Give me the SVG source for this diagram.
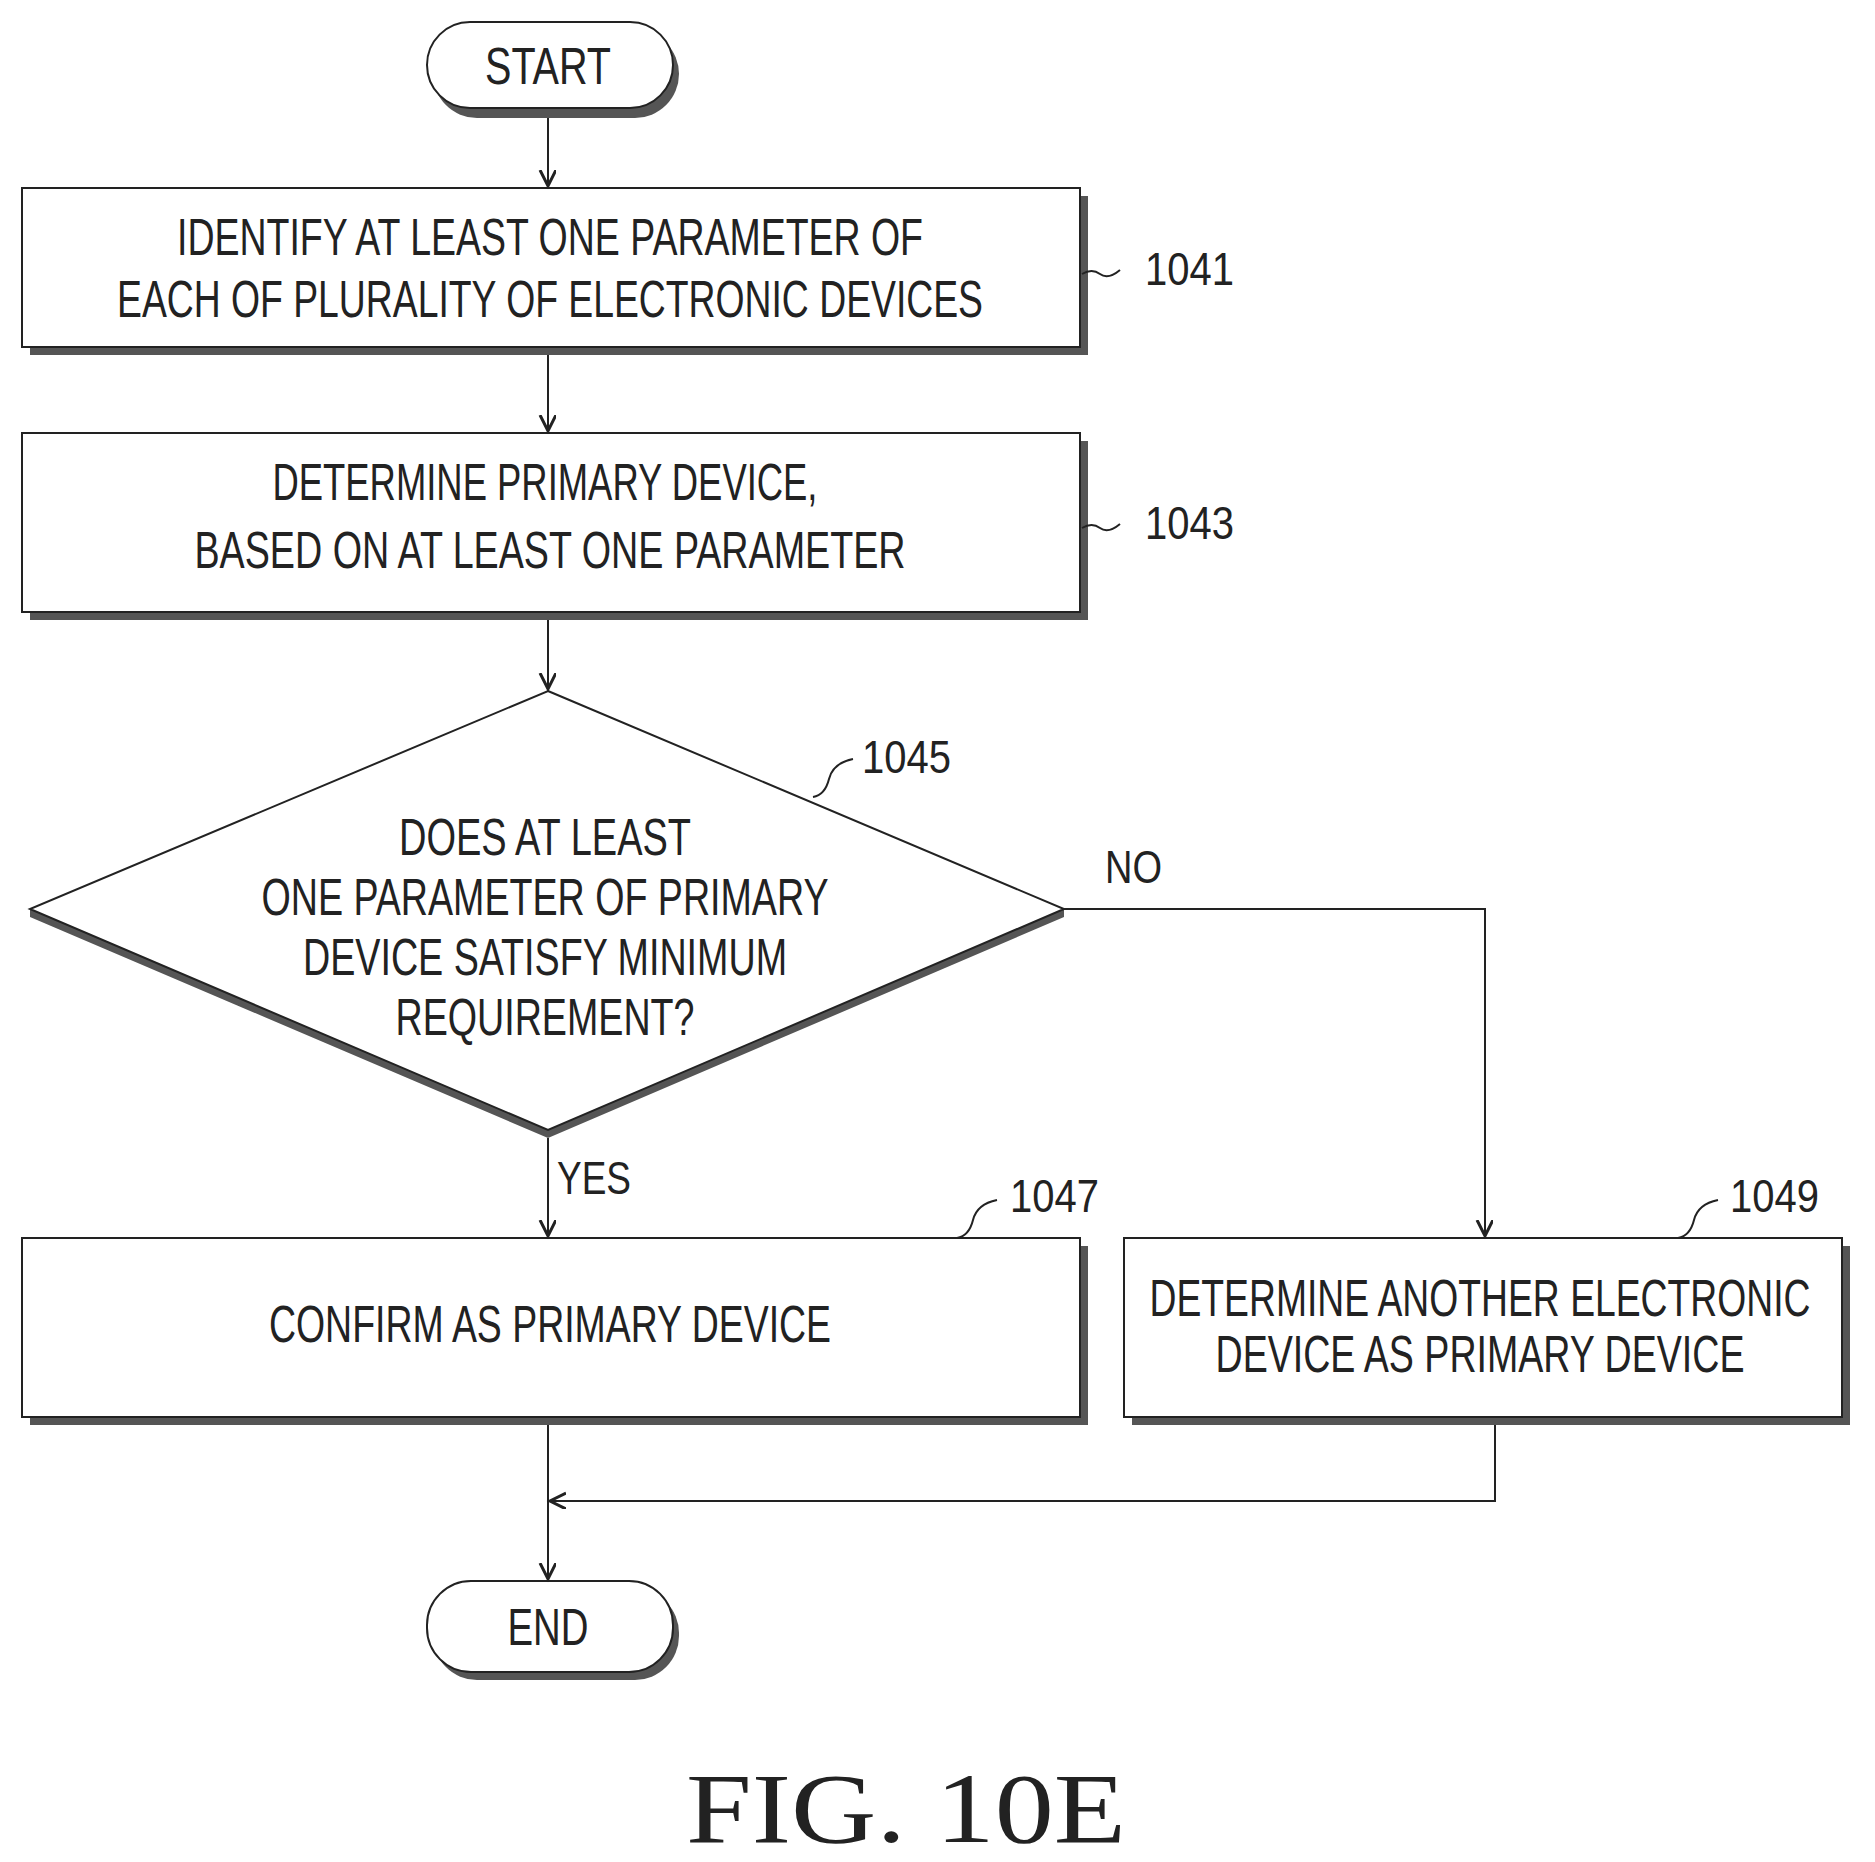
<svg xmlns="http://www.w3.org/2000/svg" width="1875" height="1862" viewBox="0 0 1875 1862">
<style>
.b{fill:#fff;stroke:#222;stroke-width:2}
.s{fill:#555}
.t{font-family:"Liberation Sans",Arial,sans-serif;font-size:52px;fill:#222;text-anchor:middle;dominant-baseline:central}
.n{font-family:"Liberation Sans",Arial,sans-serif;font-size:46px;fill:#222;dominant-baseline:central}
.c{fill:none;stroke:#222;stroke-width:2}
</style>
<defs><marker id="a" markerWidth="20" markerHeight="20" refX="16" refY="8" orient="auto" markerUnits="userSpaceOnUse"><path d="M0,0 L16,8 L0,16" fill="none" stroke="#222" stroke-width="3"/></marker></defs>
<rect width="1875" height="1862" fill="#fff"/>
<g id="start"><rect class="s" x="433" y="30" width="246" height="88" rx="44"/><rect class="b" x="427" y="22" width="246" height="86" rx="43"/><text class="t" x="548" y="66" textLength="126" lengthAdjust="spacingAndGlyphs">START</text></g>
<g id="n1041"><rect class="s" x="30" y="196" width="1058" height="159"/><rect class="b" x="22" y="188" width="1058" height="159"/><text class="t" x="550" y="237" textLength="746" lengthAdjust="spacingAndGlyphs">IDENTIFY AT LEAST ONE PARAMETER OF</text><text class="t" x="550" y="299" textLength="866" lengthAdjust="spacingAndGlyphs">EACH OF PLURALITY OF ELECTRONIC DEVICES</text><path class="c" d="M1082,274 q10,-6 18,0 t20,-4"/><text class="n" x="1145" y="269" textLength="89" lengthAdjust="spacingAndGlyphs">1041</text></g>
<g id="n1043"><rect class="s" x="30" y="441" width="1058" height="179"/><rect class="b" x="22" y="433" width="1058" height="179"/><text class="t" x="545" y="482" textLength="545" lengthAdjust="spacingAndGlyphs">DETERMINE PRIMARY DEVICE,</text><text class="t" x="550" y="550" textLength="711" lengthAdjust="spacingAndGlyphs">BASED ON AT LEAST ONE PARAMETER</text><path class="c" d="M1082,528 q10,-6 18,0 t20,-4"/><text class="n" x="1145" y="523" textLength="89" lengthAdjust="spacingAndGlyphs">1043</text></g>
<g id="n1045"><path class="s" d="M30,917 L548,1138 L1064,917 L1064,909 L548,1130 L30,909Z"/><path class="b" d="M548,691 L1064,909 L548,1130 L30,909Z"/><text class="t" x="545" y="837" textLength="292" lengthAdjust="spacingAndGlyphs">DOES AT LEAST</text><text class="t" x="545" y="897" textLength="567" lengthAdjust="spacingAndGlyphs">ONE PARAMETER OF PRIMARY</text><text class="t" x="545" y="957" textLength="484" lengthAdjust="spacingAndGlyphs">DEVICE SATISFY MINIMUM</text><text class="t" x="545" y="1017" textLength="299" lengthAdjust="spacingAndGlyphs">REQUIREMENT?</text><path class="c" d="M813,797 q12,-2 16,-18 t24,-20"/><text class="n" x="862" y="757" textLength="89" lengthAdjust="spacingAndGlyphs">1045</text></g>
<g id="n1047"><rect class="s" x="30" y="1246" width="1058" height="179"/><rect class="b" x="22" y="1238" width="1058" height="179"/><text class="t" x="550" y="1324" textLength="562" lengthAdjust="spacingAndGlyphs">CONFIRM AS PRIMARY DEVICE</text><path class="c" d="M957,1238 q12,-2 16,-18 t24,-20"/><text class="n" x="1010" y="1196" textLength="89" lengthAdjust="spacingAndGlyphs">1047</text></g>
<g id="n1049"><rect class="s" x="1132" y="1246" width="718" height="179"/><rect class="b" x="1124" y="1238" width="718" height="179"/><text class="t" x="1480" y="1298" textLength="661" lengthAdjust="spacingAndGlyphs">DETERMINE ANOTHER ELECTRONIC</text><text class="t" x="1480" y="1354" textLength="529" lengthAdjust="spacingAndGlyphs">DEVICE AS PRIMARY DEVICE</text><path class="c" d="M1678,1238 q12,-2 16,-18 t24,-20"/><text class="n" x="1730" y="1196" textLength="89" lengthAdjust="spacingAndGlyphs">1049</text></g>
<g id="end"><rect class="s" x="433" y="1589" width="246" height="91" rx="44"/><rect class="b" x="427" y="1581" width="246" height="91" rx="44"/><text class="t" x="548" y="1627" textLength="81" lengthAdjust="spacingAndGlyphs">END</text></g>
<g id="connectors">
<line class="c" x1="548" y1="118" x2="548" y2="186" marker-end="url(#a)"/>
<line class="c" x1="548" y1="355" x2="548" y2="431" marker-end="url(#a)"/>
<line class="c" x1="548" y1="620" x2="548" y2="689" marker-end="url(#a)"/>
<line class="c" x1="548" y1="1138" x2="548" y2="1236" marker-end="url(#a)"/>
<polyline class="c" points="1064,909 1485,909 1485,1236" marker-end="url(#a)"/>
<line class="c" x1="548" y1="1425" x2="548" y2="1579" marker-end="url(#a)"/>
<polyline class="c" points="1495,1425 1495,1501 550,1501" marker-end="url(#a)"/>
<text class="n" x="557" y="1178" textLength="74" lengthAdjust="spacingAndGlyphs">YES</text>
<text class="n" x="1105" y="867" textLength="57" lengthAdjust="spacingAndGlyphs">NO</text>
</g>
<text x="906" y="1842" font-family="Liberation Serif,serif" font-size="100" fill="#222" text-anchor="middle" textLength="440" lengthAdjust="spacingAndGlyphs">FIG. 10E</text>
</svg>
